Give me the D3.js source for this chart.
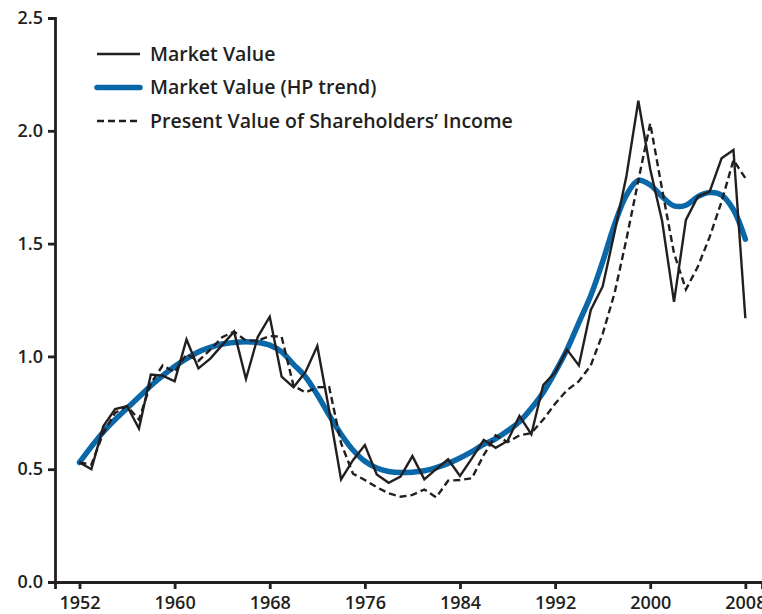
<!DOCTYPE html>
<html>
<head>
<meta charset="utf-8">
<script src="https://cdn.jsdelivr.net/npm/d3@7"></script>
<style>
  body { margin: 0; background: #fff; }
  text { font-family: "Open Sans", sans-serif; fill: #231f20; }
</style>
</head>
<body>
<div id="chart"></div>
<script>
// Data
var years = d3.range(1952, 2009);

var marketValue = [
  0.53, 0.50, 0.69, 0.767, 0.78, 0.68, 0.92, 0.915, 0.89, 1.075,
  0.947, 0.99, 1.05, 1.11, 0.90, 1.087, 1.176, 0.91, 0.863, 0.93,
  1.046, 0.76, 0.455, 0.54, 0.607, 0.477, 0.44, 0.467, 0.558, 0.455,
  0.50, 0.544, 0.47, 0.548, 0.63, 0.595, 0.625, 0.736, 0.655, 0.873,
  0.93, 1.03, 0.96, 1.206, 1.31, 1.55, 1.80, 2.133, 1.83, 1.60,
  1.242, 1.605, 1.708, 1.73, 1.878, 1.915, 1.169
];

var hpTrend = [
  0.53, 0.60, 0.665, 0.72, 0.77, 0.82, 0.87, 0.915, 0.955, 0.99,
  1.02, 1.04, 1.055, 1.062, 1.065, 1.062, 1.05, 1.02, 0.965, 0.91,
  0.83, 0.74, 0.655, 0.585, 0.535, 0.505, 0.49, 0.485, 0.487, 0.493,
  0.507, 0.526, 0.55, 0.578, 0.61, 0.635, 0.67, 0.71, 0.77, 0.84,
  0.93, 1.03, 1.15, 1.27, 1.42, 1.585, 1.715, 1.78, 1.76, 1.708,
  1.667, 1.67, 1.708, 1.726, 1.715, 1.65, 1.52
];

var presentValue = [
  0.53, 0.52, 0.66, 0.75, 0.78, 0.72, 0.88, 0.96, 0.93, 1.01,
  0.98, 1.03, 1.085, 1.11, 1.07, 1.07, 1.09, 1.087, 0.87, 0.84,
  0.863, 0.864, 0.615, 0.48, 0.452, 0.42, 0.393, 0.378, 0.386, 0.41,
  0.375, 0.449, 0.452, 0.46, 0.563, 0.65, 0.62, 0.65, 0.66, 0.72,
  0.79, 0.85, 0.89, 0.96, 1.10, 1.28, 1.52, 1.78, 2.033, 1.74,
  1.457, 1.297, 1.397, 1.53, 1.686, 1.87, 1.79
];

var yTicks = [0, 0.5, 1.0, 1.5, 2.0, 2.5];
var xTicks = [1952, 1960, 1968, 1976, 1984, 1992, 2000, 2008];

var legendLabels = ["Market Value", "Market Value (HP trend)", "Present Value of Shareholders\u2019 Income"];

// SVG area
var svgWidth = 762;
var svgHeight = 614;

var svg = d3.select("#chart")
    .append("svg")
    .attr("width", svgWidth)
    .attr("height", svgHeight);

// Scales
var xScale = d3.scaleLinear()
    .domain([1949.94, 2009.4])
    .range([55, 762]);

var yScale = d3.scaleLinear()
    .domain([0, 2.5])
    .range([582, 18]);

var ink = "#231f20";
var blue = "#0a67a8";

// Lines
var line = function(values, curve) {
    return d3.line()
        .x((d, i) => xScale(years[i]))
        .y(d => yScale(d))
        .curve(curve)(values);
};

svg.append("path")
    .attr("d", line(hpTrend, d3.curveCatmullRom))
    .attr("fill", "none")
    .attr("stroke", blue)
    .attr("stroke-width", 5.5)
    .attr("stroke-linecap", "round")
    .attr("stroke-linejoin", "round");

svg.append("path")
    .attr("d", line(presentValue, d3.curveLinear))
    .attr("fill", "none")
    .attr("stroke", ink)
    .attr("stroke-width", 2.4)
    .attr("stroke-dasharray", "7,4");

svg.append("path")
    .attr("d", line(marketValue, d3.curveLinear))
    .attr("fill", "none")
    .attr("stroke", ink)
    .attr("stroke-width", 2.4)
    .attr("stroke-linejoin", "miter");

// Axes
var bottomAxis = d3.axisBottom(xScale)
    .tickValues(xTicks)
    .tickFormat(d3.format("d"))
    .tickSizeOuter(0)
    .tickSize(7)
    .tickPadding(7);

var leftAxis = d3.axisLeft(yScale)
    .tickValues(yTicks)
    .tickFormat(d3.format(".1f"))
    .tickSizeOuter(0)
    .tickSize(7)
    .tickPadding(5);

var gx = svg.append("g")
    .attr("transform", "translate(0, 582)")
    .call(bottomAxis);

var gy = svg.append("g")
    .attr("transform", "translate(55, 0)")
    .call(leftAxis);

[gx, gy].forEach(function(g) {
    g.select(".domain").attr("stroke", ink).attr("stroke-width", 2.8);
    g.selectAll(".tick line").attr("stroke", ink).attr("stroke-width", 2.8);
    g.selectAll(".tick text")
        .attr("fill", ink)
        .style("font-size", "18px")
        .style("font-weight", 600);
});

// Legend
var legend = svg.append("g").attr("transform", "translate(97, 54)");
var legendStyles = [
    { stroke: ink, width: 2.4, dash: null },
    { stroke: blue, width: 5.5, dash: null },
    { stroke: ink, width: 2.4, dash: "7,4" }
];

legendLabels.forEach(function(label, i) {
    var row = legend.append("g").attr("transform", `translate(0, ${i * 33.5})`);
    row.append("line")
        .attr("x1", 0)
        .attr("x2", 43)
        .attr("y1", 0)
        .attr("y2", 0)
        .attr("stroke", legendStyles[i].stroke)
        .attr("stroke-width", legendStyles[i].width)
        .attr("stroke-linecap", i === 1 ? "round" : "butt")
        .attr("stroke-dasharray", legendStyles[i].dash);
    row.append("text")
        .attr("x", 53)
        .attr("y", 6.5)
        .style("font-size", "19.5px")
        .style("font-weight", 600)
        .text(label);
});
</script>
</body>
</html>
